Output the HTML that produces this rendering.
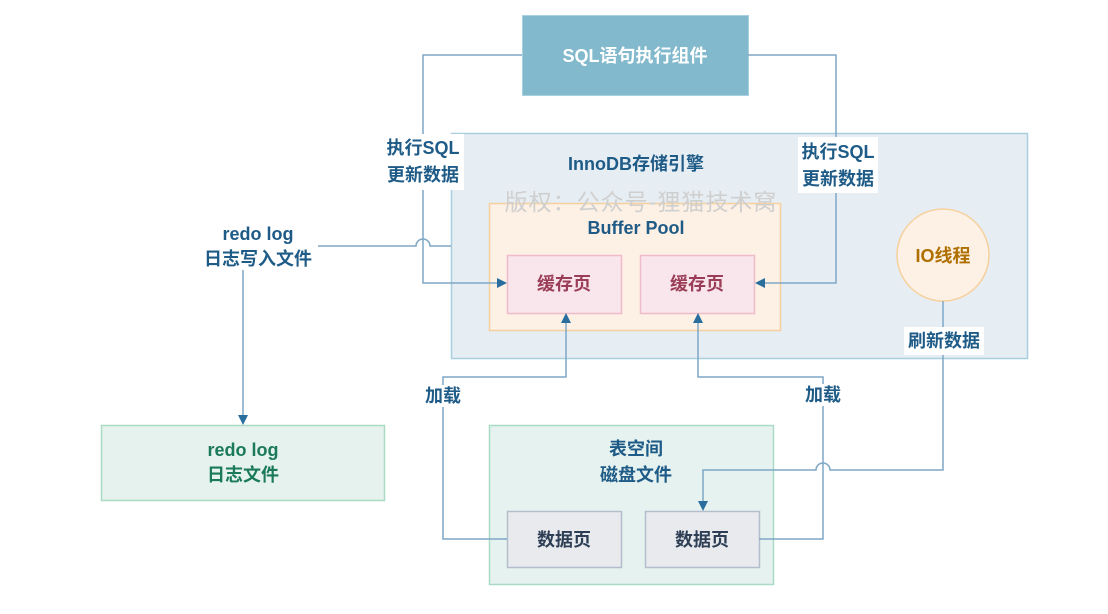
<!DOCTYPE html>
<html><head><meta charset="utf-8"><style>
html,body{margin:0;padding:0;background:#fff;}
svg{display:block;}
text{font-family:"Liberation Sans","Noto Sans CJK SC",sans-serif;font-weight:bold;}
</style></head><body>
<svg width="1108" height="614" viewBox="0 0 1108 614" xmlns="http://www.w3.org/2000/svg">
<defs>
<marker id="a" markerWidth="10" markerHeight="10" refX="8" refY="5" orient="auto" markerUnits="userSpaceOnUse">
<path d="M0,0 L10,5 L0,10 Z" fill="#2a6e9e"/></marker>
</defs>
<rect x="522.5" y="15.5" width="226" height="80" fill="#82b9cd" stroke="#a8d0df"/>
<text x="635" y="62" font-size="18" fill="#fff" text-anchor="middle">SQL语句执行组件</text>
<rect x="451.5" y="133.5" width="576" height="225" fill="#e7eef3" stroke="#a8cfe0" stroke-width="1.5"/>
<text x="636" y="170" font-size="18" fill="#1f5b87" text-anchor="middle">InnoDB存储引擎</text>
<rect x="489.5" y="203.5" width="291" height="127" fill="#fdf0e4" stroke="#f6d09e" stroke-width="1.5"/>
<text x="641" y="210" font-size="23" fill="#cfcfcf" text-anchor="middle" letter-spacing="1" style="font-weight:normal">版权：公众号-狸猫技术窝</text>
<text x="636" y="234" font-size="18" fill="#1f5b87" text-anchor="middle">Buffer Pool</text>
<rect x="507.5" y="255.5" width="114" height="58" fill="#f8e6ec" stroke="#efbac9" stroke-width="1.5"/>
<text x="564" y="290" font-size="18" fill="#9b3d58" text-anchor="middle">缓存页</text>
<rect x="640.5" y="255.5" width="114" height="58" fill="#f8e6ec" stroke="#efbac9" stroke-width="1.5"/>
<text x="697" y="290" font-size="18" fill="#9b3d58" text-anchor="middle">缓存页</text>
<circle cx="943" cy="255" r="46" fill="#fdf0e4" stroke="#f6d09e" stroke-width="1.5"/>
<text x="943" y="262" font-size="18" fill="#b07000" text-anchor="middle">IO线程</text>
<rect x="101.5" y="425.5" width="283" height="75" fill="#e6f2ed" stroke="#a9dac3" stroke-width="1.5"/>
<text x="243" y="456" font-size="18" fill="#1a7a5a" text-anchor="middle">redo log</text>
<text x="243" y="481" font-size="18" fill="#1a7a5a" text-anchor="middle">日志文件</text>
<rect x="489.5" y="425.5" width="284" height="159" fill="#e6f2ef" stroke="#a9dac6" stroke-width="1.5"/>
<text x="636" y="455" font-size="18" fill="#1f5b87" text-anchor="middle">表空间</text>
<text x="636" y="481" font-size="18" fill="#1f5b87" text-anchor="middle">磁盘文件</text>
<rect x="507.5" y="511.5" width="114" height="56" fill="#e8eaee" stroke="#b4bdcb" stroke-width="1.5"/>
<text x="564" y="546" font-size="18" fill="#2e3f55" text-anchor="middle">数据页</text>
<rect x="645.5" y="511.5" width="114" height="56" fill="#e8eaee" stroke="#b4bdcb" stroke-width="1.5"/>
<text x="702" y="546" font-size="18" fill="#2e3f55" text-anchor="middle">数据页</text>
<g fill="none" stroke="#7ea7c6" stroke-width="1.5">
<path d="M522,55 H423 V283 H505" marker-end="url(#a)"/>
<path d="M748,55 H836 V283 H757" marker-end="url(#a)"/>
<path d="M318,246 H416 A7,7 0 0 1 430,246 H451"/>
<path d="M243,270 V423" marker-end="url(#a)"/>
<path d="M943,301 V470 H830 A7,7 0 0 0 816,470 H703 V509" marker-end="url(#a)"/>
<path d="M507,539 H443 V377 H566 V315" marker-end="url(#a)"/>
<path d="M759,539 H823 V377 H698 V315" marker-end="url(#a)"/>
</g>
<rect x="382" y="134" width="82" height="56" fill="#fff"/>
<text x="423" y="154" font-size="18" fill="#1f5b87" text-anchor="middle">执行SQL</text>
<text x="423" y="181" font-size="18" fill="#1f5b87" text-anchor="middle">更新数据</text>
<rect x="798" y="137" width="80" height="56" fill="#fff"/>
<text x="838" y="158" font-size="18" fill="#1f5b87" text-anchor="middle">执行SQL</text>
<text x="838" y="185" font-size="18" fill="#1f5b87" text-anchor="middle">更新数据</text>
<text x="258" y="240" font-size="18" fill="#1f5b87" text-anchor="middle">redo log</text>
<text x="258" y="265" font-size="18" fill="#1f5b87" text-anchor="middle">日志写入文件</text>
<rect x="904" y="327" width="80" height="28" fill="#fff"/>
<text x="944" y="347" font-size="18" fill="#1f5b87" text-anchor="middle">刷新数据</text>
<rect x="420" y="385" width="46" height="22" fill="#fff"/>
<text x="443" y="402" font-size="18" fill="#1f5b87" text-anchor="middle">加载</text>
<rect x="800" y="384" width="46" height="22" fill="#fff"/>
<text x="823" y="401" font-size="18" fill="#1f5b87" text-anchor="middle">加载</text>
</svg>
</body></html>
